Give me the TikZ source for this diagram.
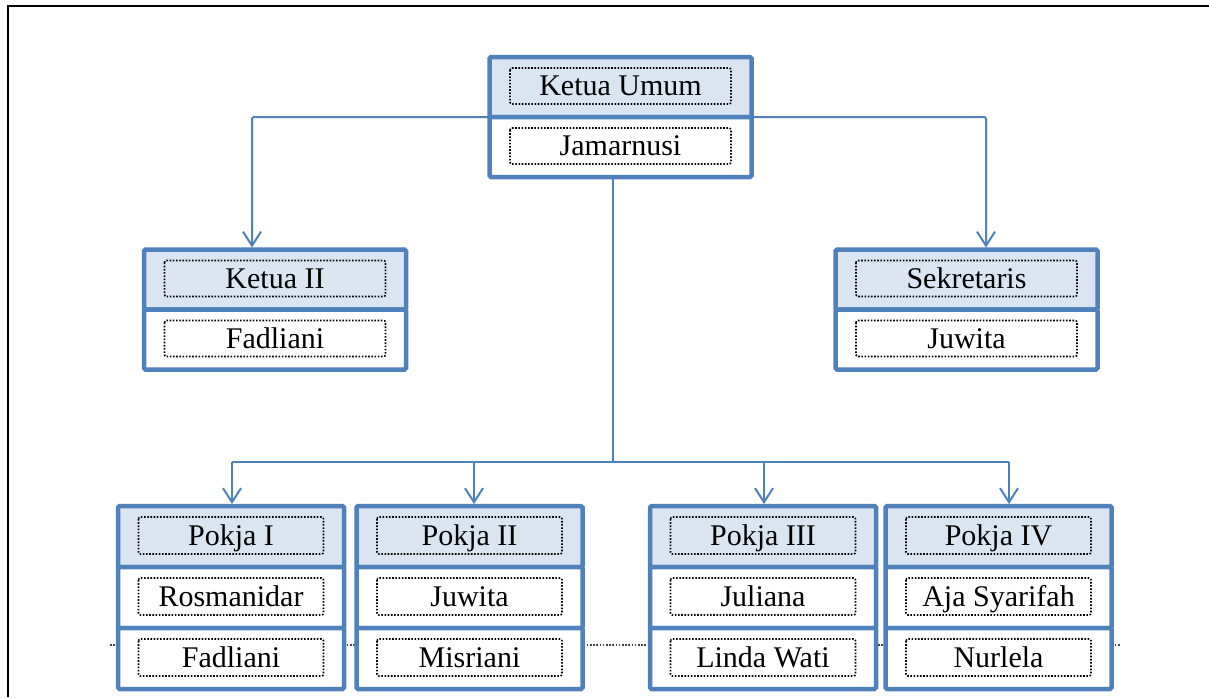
\documentclass[tikz,border=0pt]{standalone}
\usepackage{fontspec}
\setmainfont{Liberation Serif}
\usepackage{tikz}
\usetikzlibrary{arrows.meta, positioning, calc}

\definecolor{biru}{RGB}{79,129,189}
\definecolor{birumuda}{RGB}{219,229,241}

\tikzset{
  kotak/.style={draw=biru, line width=4.5pt, rounded corners=1.5pt, minimum width=226pt, minimum height=61pt,
    inner sep=0pt, outer sep=0pt, text height=20pt, text depth=3pt, font=\fontsize{30}{36}\selectfont,
    path picture={\draw[black, line width=1.6pt, dash pattern=on 1.6pt off 1.6pt, rounded corners=2pt]
      ([xshift=20.5pt,yshift=-11pt]path picture bounding box.north west) rectangle
      ([xshift=-20.5pt,yshift=13pt]path picture bounding box.south east);}},
  judul/.style={kotak, fill=birumuda},
  isi/.style={kotak, fill=white},
  lebar/.style={minimum width=262pt, minimum height=60pt},
  garis/.style={draw=biru, line width=2pt, rounded corners=2pt},
  panah/.style={garis, shorten >=2pt, -{Straight Barb[length=14pt,width=18pt,line width=2pt]}},
}

\begin{document}
\begin{tikzpicture}[x=1pt, y=-1pt]
\useasboundingbox (0,0) rectangle (1209,697);

% frame
\draw[black, line width=2pt] (8,697) -- (8,6) -- (1209,6);

% dotted line behind the pokja boxes
\draw[black!75, line width=1.6pt, dash pattern=on 1.6pt off 1.6pt] (110,645) -- (1120,645);

% ketua umum
\node[judul, lebar] (kuh) at (620.5,87) {Ketua Umum};
\node[isi, lebar, below=0pt of kuh] (kub) {Jamarnusi};

% ketua II and sekretaris
\node[judul, lebar] (k2h) at (275,279.5) {Ketua II};
\node[isi, lebar, below=0pt of k2h] (k2b) {Fadliani};

\node[judul, lebar] (sekh) at (966.5,279.5) {Sekretaris};
\node[isi, lebar, below=0pt of sekh] (sekb) {Juwita};

% pokja
\node[judul] (p1h) at (231,536.5) {Pokja I};
\node[isi, below=0pt of p1h] (p1a) {Rosmanidar};
\node[isi, below=0pt of p1a] (p1b) {Fadliani};

\node[judul] (p2h) at (469.5,536.5) {Pokja II};
\node[isi, below=0pt of p2h] (p2a) {Juwita};
\node[isi, below=0pt of p2a] (p2b) {Misriani};

\node[judul] (p3h) at (763,536.5) {Pokja III};
\node[isi, below=0pt of p3h] (p3a) {Juliana};
\node[isi, below=0pt of p3a] (p3b) {Linda Wati};

\node[judul] (p4h) at (998.5,536.5) {Pokja IV};
\node[isi, below=0pt of p4h] (p4a) {Aja Syarifah};
\node[isi, below=0pt of p4a] (p4b) {Nurlela};

% connectors
\draw[panah] (kub.north west) -| ([xshift=-23pt]k2h.north);
\draw[panah] (kub.north east) -| ([xshift=19.5pt]sekh.north);

\coordinate (cabang) at (613,462);
\draw[garis] (kub.south -| cabang) -- (cabang);
\draw[garis] ([xshift=1pt]p1h.north |- cabang) -- ([xshift=10.5pt]p4h.north |- cabang);
\foreach \n/\g in {p1h/1, p2h/4.5, p3h/1, p4h/10.5}
  \draw[panah] ([xshift=\g pt]\n.north |- cabang) -- ([xshift=\g pt]\n.north);
\end{tikzpicture}
\end{document}
